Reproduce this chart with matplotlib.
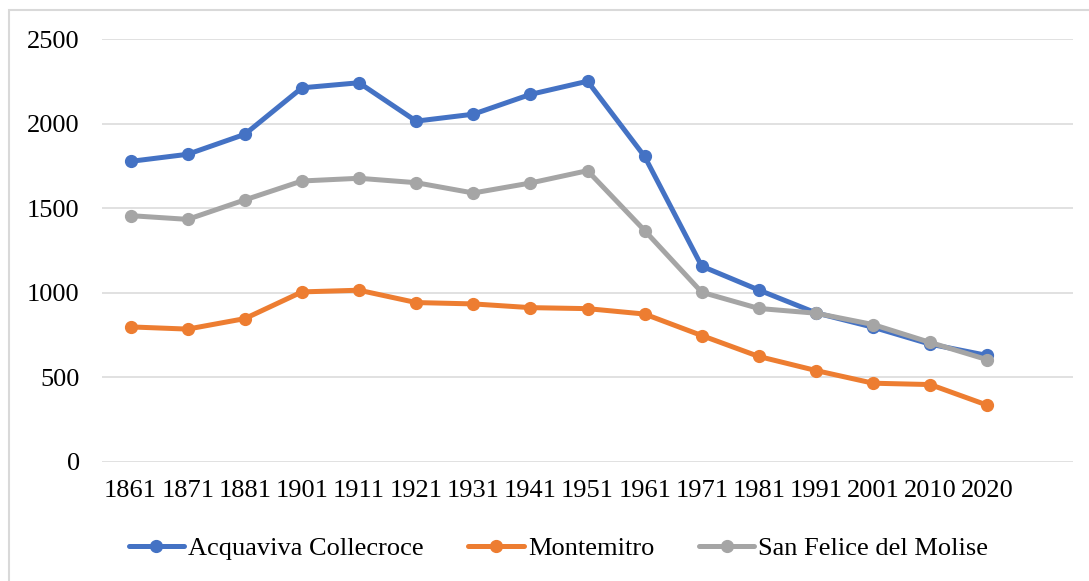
import matplotlib
matplotlib.use("Agg")
import matplotlib.pyplot as plt
from matplotlib.patches import Rectangle

years = ["1861", "1871", "1881", "1901", "1911", "1921", "1931", "1941",
         "1951", "1961", "1971", "1981", "1991", "2001", "2010", "2020"]
acquaviva = [1778, 1820, 1938, 2213, 2243, 2016, 2057, 2174, 2252, 1807,
             1158, 1017, 882, 797, 697, 630]
montemitro = [799, 786, 848, 1006, 1016, 943, 935, 913, 907, 875,
              748, 624, 541, 466, 458, 336]
san_felice = [1457, 1435, 1550, 1662, 1678, 1652, 1591, 1650, 1723, 1369,
              1004, 908, 880, 813, 707, 605]
series_names = ["Acquaviva Collecroce", "Montemitro", "San Felice del Molise"]
colors = ["#4472C4", "#ED7D31", "#A5A5A5"]
yticks = [0, 500, 1000, 1500, 2000, 2500]

plt.rcParams['font.family'] = ['Liberation Serif', 'DejaVu Serif']

W, H = 1089, 581
fig = plt.figure(figsize=(W / 100, H / 100), dpi=100)
fig.patch.set_facecolor("white")

# chart-area border
fig.patches.append(Rectangle((9 / W, -0.1), 1.2, 1 - 10 / H + 0.1,
                             transform=fig.transFigure, fill=False,
                             edgecolor="#D9D9D9", linewidth=1.5))

ax = fig.add_axes([102 / W, 1 - 462 / H, (1073 - 102) / W, (462 - 39.3) / H])
x = list(range(len(years)))
for vals, name, c in zip([acquaviva, montemitro, san_felice], series_names, colors):
    ax.plot(x, vals, color=c, linewidth=3.6, marker="o", markersize=8.5,
            markerfacecolor=c, markeredgecolor=c, label=name,
            solid_joinstyle="round", solid_capstyle="round", zorder=3)

ax.set_xlim(-0.5, 16.5)
ax.set_ylim(0, 2500)
ax.set_yticks(yticks)
ax.set_yticklabels([str(t) for t in yticks])
ax.set_xticks(x)
ax.set_xticklabels(years)
ax.tick_params(axis="both", length=0, labelsize=19, colors="black")
ax.tick_params(axis="y", pad=16)
ax.tick_params(axis="x", pad=13)
ax.grid(axis="y", color="#D9D9D9", linewidth=1.1)
ax.set_axisbelow(True)
for s in ax.spines.values():
    s.set_visible(False)

handles, labels = ax.get_legend_handles_labels()
fig.legend(handles, labels, loc="center", bbox_to_anchor=(558.5 / W, 1 - 548 / H),
           ncol=3, frameon=False, fontsize=19, handlelength=2.1,
           handletextpad=0.15, columnspacing=1.7, borderpad=0, borderaxespad=0)

fig.savefig("out.png", dpi=100, facecolor="white")
